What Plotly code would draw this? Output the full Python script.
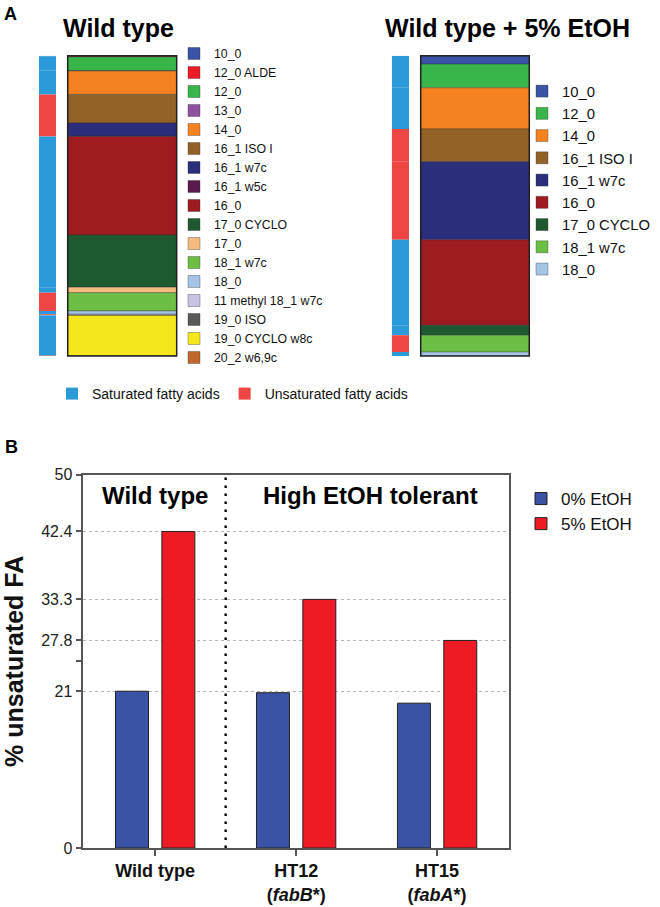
import numpy as np
import plotly.graph_objects as go

# ---------------- data ----------------
wt_species = ["10_0", "12_0 ALDE", "12_0", "13_0", "14_0", "16_1 ISO I", "16_1 w7c",
              "16_1 w5c", "16_0", "17_0 CYCLO", "17_0", "18_1 w7c", "18_0",
              "11 methyl 18_1 w7c", "19_0 ISO", "19_0 CYCLO w8c", "20_2 w6,9c"]
wt_values = [0.2, 0.2, 4.6, 0.1, 7.8, 9.5, 4.4, 0.1, 32.8, 17.4, 1.8, 6.1, 1.1,
             0.3, 0.1, 13.4, 0.1]
wt_unsaturated = [False, False, False, False, False, True, True, True, False, False,
                  False, True, False, True, False, False, True]

etoh_species = ["10_0", "12_0", "14_0", "16_1 ISO I", "16_1 w7c", "16_0",
                "17_0 CYCLO", "18_1 w7c", "18_0"]
etoh_values = [2.8, 7.9, 13.7, 10.9, 26.0, 28.5, 3.3, 5.6, 1.3]
etoh_unsaturated = [False, False, False, True, True, False, False, True, False]

strains = ["Wild type", "HT12<br>(<i>fabB</i>*)", "HT15<br>(<i>fabA</i>*)"]
unsat_0pct = [21.0, 20.8, 19.4]
unsat_5pct = [42.4, 33.3, 27.8]
ytick_values = [0, 21, 27.8, 33.3, 42.4, 50]
ytick_minor = [25]

# ---------------- style ----------------
FONT = "Liberation Sans, Arial, sans-serif"
species_colors = {
    "10_0": "#3a53a4", "12_0 ALDE": "#ed1c24", "12_0": "#39b54a", "13_0": "#8e52a1",
    "14_0": "#f58220", "16_1 ISO I": "#936227", "16_1 w7c": "#2b2e7b",
    "16_1 w5c": "#5b1a4e", "16_0": "#9e1b20", "17_0 CYCLO": "#1e5a30",
    "17_0": "#f4bb7e", "18_1 w7c": "#6dbe45", "18_0": "#a3c4e6",
    "11 methyl 18_1 w7c": "#c6c3e3", "19_0 ISO": "#58595b",
    "19_0 CYCLO w8c": "#f5e71b", "20_2 w6,9c": "#c0682d",
}
SAT_COLOR = "#2b9ad9"
UNSAT_COLOR = "#ee4545"
W, H = 660, 907


def px_x(v):
    return v / W


def px_y(v):
    return 1 - v / H


fig = go.Figure()
seen_class = set()


def add_stack(species, values, unsat, xa, ya, xs, ys, legend_name, side_legend):
    base = np.concatenate([[0.0], np.cumsum(values)[:-1]])
    for name, v, b in zip(species, values, base):
        fig.add_trace(go.Bar(
            x=[0], y=[v], base=[b], width=[1], offset=[-0.5],
            name=name, marker=dict(color=species_colors[name],
                                   line=dict(width=0.6, color="rgba(40,40,40,0.55)")),
            xaxis=xa, yaxis=ya, legend=legend_name, showlegend=True,
            hoverinfo="name+y"))
    for name, v, b, u in zip(species, values, base, unsat):
        cls = "Unsaturated fatty acids" if u else "Saturated fatty acids"
        show = side_legend and cls not in seen_class
        if show:
            seen_class.add(cls)
        fig.add_trace(go.Bar(
            x=[0], y=[v], base=[b], width=[1], offset=[-0.5],
            name=cls, marker=dict(color=UNSAT_COLOR if u else SAT_COLOR,
                                  line=dict(width=0.6, color="rgba(40,40,40,0.0)")),
            xaxis=xs, yaxis=ys, legend="legend3", showlegend=show,
            hoverinfo="name+y"))


add_stack(wt_species, wt_values, wt_unsaturated, "x", "y", "x2", "y2", "legend", True)
add_stack(etoh_species, etoh_values, etoh_unsaturated, "x3", "y3", "x4", "y4", "legend2", False)

# Panel B bars
fig.add_trace(go.Bar(x=strains, y=unsat_0pct, name="0% EtOH", xaxis="x5", yaxis="y5",
                     marker=dict(color="#3a53a4", line=dict(color="#222", width=1)),
                     legend="legend4"))
fig.add_trace(go.Bar(x=strains, y=unsat_5pct, name="5% EtOH", xaxis="x5", yaxis="y5",
                     marker=dict(color="#ed1c24", line=dict(color="#222", width=1)),
                     legend="legend4"))

a_ydom = [px_y(356), px_y(55.7)]
hidden = dict(visible=False, fixedrange=True, automargin=False)
fig.update_layout(
    width=W, height=H, margin=dict(l=0, r=0, t=0, b=0, pad=0, autoexpand=False),
    paper_bgcolor="white", plot_bgcolor="white",
    font=dict(family=FONT, color="#111"),
    barmode="group", bargap=0.342, bargroupgap=0.289,
    xaxis=dict(domain=[px_x(67.7), px_x(176.7)], range=[-0.5, 0.5], anchor="y", **hidden),
    yaxis=dict(domain=a_ydom, range=[100, 0], anchor="x", **hidden),
    xaxis2=dict(domain=[px_x(39), px_x(56)], range=[-0.5, 0.5], anchor="y2", **hidden),
    yaxis2=dict(domain=a_ydom, range=[100, 0], anchor="x2", **hidden),
    xaxis3=dict(domain=[px_x(420.7), px_x(529.3)], range=[-0.5, 0.5], anchor="y3", **hidden),
    yaxis3=dict(domain=a_ydom, range=[100, 0], anchor="x3", **hidden),
    xaxis4=dict(domain=[px_x(391.7), px_x(409)], range=[-0.5, 0.5], anchor="y4", **hidden),
    yaxis4=dict(domain=a_ydom, range=[100, 0], anchor="x4", **hidden),
    xaxis5=dict(domain=[px_x(83.3), px_x(509)], anchor="y5", range=[-0.51, 2.51],
                showline=True, linecolor="#555", linewidth=1.5, mirror=True,
                ticks="outside", ticklen=6, tickcolor="#555", tickwidth=1.5,
                tickfont=dict(size=18, weight="bold", color="#111"), showgrid=False,
                fixedrange=True, automargin=False),
    yaxis5=dict(domain=[px_y(848), px_y(474.7)], anchor="x5", range=[0, 50],
                tickvals=ytick_values, ticks="outside", ticklen=6, tickcolor="#555",
                tickwidth=1.5, tickfont=dict(size=16, color="#222"),
                showline=True, linecolor="#555", linewidth=1.5, mirror=True,
                showgrid=True, gridcolor="#b5b5b5", griddash="dot", gridwidth=1,
                zeroline=False, fixedrange=True, automargin=False,
                minor=dict(tickvals=ytick_minor, ticks="outside", ticklen=6,
                           tickcolor="#555", tickwidth=1.5, showgrid=False),
                title=dict(text="% unsaturated FA", standoff=12,
                           font=dict(size=25, weight="bold", color="#111"))),
    legend=dict(x=px_x(174), y=px_y(39), xanchor="left", yanchor="top",
                traceorder="normal", font=dict(size=12.3, color="#111"),
                bgcolor="rgba(0,0,0,0)", tracegroupgap=0),
    legend2=dict(x=px_x(522), y=px_y(75), xanchor="left", yanchor="top",
                 traceorder="normal", font=dict(size=14.8, color="#111"),
                 bgcolor="rgba(0,0,0,0)", tracegroupgap=0),
    legend3=dict(x=px_x(52), y=px_y(394), xanchor="left", yanchor="middle",
                 orientation="h", traceorder="normal",
                 font=dict(size=14, color="#111"), bgcolor="rgba(0,0,0,0)"),
    legend4=dict(x=px_x(521), y=px_y(481), xanchor="left", yanchor="top",
                 traceorder="normal", font=dict(size=17, color="#111"),
                 bgcolor="rgba(0,0,0,0)"),
    showlegend=True,
)

# outlines around stacked bars and divider in panel B
for xa, ya in [("x", "y"), ("x3", "y3")]:
    fig.add_shape(type="rect", xref=f"{xa} domain", yref=f"{ya} domain",
                  x0=0, x1=1, y0=0, y1=1, line=dict(color="#222", width=1.5),
                  fillcolor="rgba(0,0,0,0)", layer="above")
fig.add_shape(type="line", xref="x5", yref="y5 domain", x0=0.5, x1=0.5, y0=0, y1=1,
              line=dict(color="#111", width=2.5, dash="2.5px,5.5px"))

annos = [
    dict(text="A", x=px_x(10), y=px_y(14), size=18),
    dict(text="B", x=px_x(11.7), y=px_y(446.7), size=18),
    dict(text="Wild type", x=px_x(118), y=px_y(28), size=25),
    dict(text="Wild type + 5% EtOH", x=px_x(507), y=px_y(28), size=25),
]
for a in annos:
    fig.add_annotation(text=a["text"], x=a["x"], y=a["y"], xref="paper", yref="paper",
                       showarrow=False, xanchor="center", yanchor="middle",
                       font=dict(size=a["size"], weight="bold", color="#000"))
fig.add_annotation(text="Wild type", x=0, y=px_y(495.5), xref="x5", yref="paper",
                   showarrow=False, xanchor="center", yanchor="middle",
                   font=dict(size=24, weight="bold", color="#000"))
fig.add_annotation(text="High EtOH tolerant", x=1.53, y=px_y(495.5), xref="x5",
                   yref="paper", showarrow=False, xanchor="center", yanchor="middle",
                   font=dict(size=24, weight="bold", color="#000"))

fig.write_html("out.html", config={"displayModeBar": False},
               post_script="document.body.style.margin='0';"
                           "document.body.style.overflow='hidden';")
